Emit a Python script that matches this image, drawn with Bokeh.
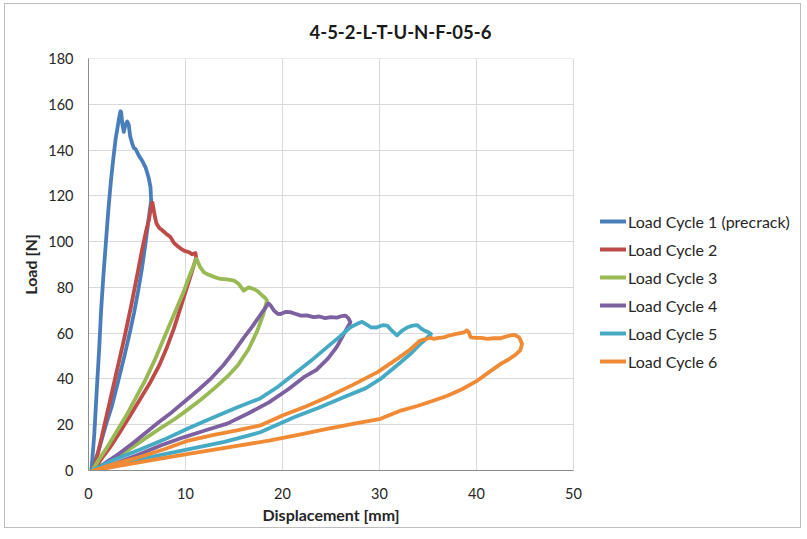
from bokeh.plotting import figure
from bokeh.models import Legend, LegendItem, FixedTicker, Range1d, Title
from bokeh.embed import file_html
from bokeh.resources import INLINE

title_text = "4-5-2-L-T-U-N-F-05-6"
x_label = "Displacement [mm]"
y_label = "Load [N]"
x_ticks = [0, 10, 20, 30, 40, 50]
y_ticks = [0, 20, 40, 60, 80, 100, 120, 140, 160, 180]

series_names = ["Load Cycle 1 (precrack)", "Load Cycle 2", "Load Cycle 3",
                "Load Cycle 4", "Load Cycle 5", "Load Cycle 6"]
colors = ["#4A7EBB", "#BE4B48", "#98B954", "#7D60A0", "#46AAC5", "#F08A35"]

# Load cycle 1 (precrack): loading, crack growth, unloading
disp_c1 = [0.3, 0.6, 0.85, 1.1, 1.3, 1.55, 1.8, 2.05, 2.3, 2.55, 2.8, 3.0, 3.15, 3.3, 3.37, 3.5, 3.64,
           3.8, 4.0, 4.15, 4.3, 4.5, 4.67, 4.85, 5.19, 5.53, 5.88, 6.2, 6.39, 6.46,
           6.2, 5.9, 5.5, 5.1, 4.7, 4.3, 3.7, 3.0, 2.4, 1.8, 1.2, 0.7, 0.4]
load_c1 = [0, 16, 35, 53, 70, 86, 100, 114, 126, 136, 145, 150, 154, 157, 156.5, 151, 148,
           151, 152.5, 151, 146, 143, 141, 140.5, 137.6, 135.4, 132.5, 128, 123.8, 118,
           110, 100, 88, 78, 69, 61, 50, 38, 28, 20, 11, 4, 0]

disp_c2 = [0.5, 1.0, 1.6, 2.3, 3.0, 3.7, 4.4, 5.0, 5.5, 5.9, 6.25, 6.5,
           6.6, 6.8, 7.0, 7.3, 7.6, 8.0, 8.45, 8.8, 9.2, 9.5, 9.9, 10.3, 10.7, 11.03, 11.1,
           10.6, 10.0, 9.4, 8.8, 8.1, 7.3, 6.3, 5.3, 4.3, 3.2, 2.2, 1.3, 0.6]
load_c2 = [0, 8, 19, 32, 45, 58, 72, 85, 96, 104, 110, 116.5,
           117, 112, 108, 106, 105, 103.5, 102, 99.5, 98, 97, 96, 95.5, 94.5, 95, 93,
           86, 78, 70, 62, 54, 46, 38, 31, 24, 16.5, 10, 5, 0]

disp_c3 = [0.4, 1.1, 1.9, 2.9, 3.9, 4.9, 5.8, 6.8, 7.6, 8.3, 9.1, 9.8, 10.5, 11.13,
           11.5, 11.9, 12.4, 13.0, 13.6, 14.3, 15.0, 15.5, 16.0, 16.5, 17.0, 17.4, 17.9, 18.2, 18.4,
           18.0, 17.4, 16.5, 15.4, 14.3, 13.0, 11.6, 10.2, 8.9, 7.6, 6.2, 4.8, 3.4, 2.0, 0.7]
load_c3 = [0, 5, 10, 17, 24, 32, 39, 48, 56, 63, 71, 78, 86, 92.5,
           89, 86.6, 85.5, 84.5, 83.7, 83.5, 83, 81.5, 78.6, 80, 79.4, 78.5, 76.5, 75.5, 74.3,
           68, 61, 53, 46, 41, 36, 31, 26.5, 22.5, 19, 15, 11, 7, 3.5, 0]

disp_c4 = [0.5, 1.8, 3.2, 4.6, 5.9, 7.2, 8.6, 10.0, 11.4, 12.7, 13.9, 15.0, 16.0, 16.9, 17.8, 18.56,
           18.8, 19.1, 19.5, 19.8, 20.3, 20.8, 21.3, 21.9, 22.5, 23.2, 23.8, 24.4, 25.0, 25.6,
           26.1, 26.5, 26.8, 27.0,
           26.5, 25.6, 24.7, 23.5, 22.2, 20.6, 18.6, 16.5, 14.3, 12.0, 9.8, 7.5, 5.2, 3.0, 0.8]
load_c4 = [0, 3.5, 7.5, 12, 16.5, 21, 25.5, 30.5, 35.5, 40.5, 46, 52, 58, 63, 68.5, 73,
           72, 70, 68.5, 68.4, 69.3, 69.2, 68.5, 67.7, 67.8, 67, 67.3, 66.6, 67, 66.8,
           67.5, 67.7, 66.5, 64.8,
           61, 54, 49, 44, 40.8, 35.5, 29.8, 25, 20.5, 17.5, 14.5, 11, 7, 3.5, 0]

disp_c5 = [0.4, 2.5, 5.2, 7.8, 10.3, 12.8, 15.3, 17.7, 19.5, 21.2, 22.9, 24.6, 25.9, 27.0, 27.7,
           28.2, 28.6, 29.1, 29.7, 30.3, 30.8, 31.3, 31.8, 32.3, 32.9, 33.4, 33.9, 34.3, 34.6, 35.0, 35.3,
           34.8, 34.2, 33.2, 32.1, 31.1, 30.1, 28.6, 26.3, 23.8, 21.2, 17.7, 14.0, 10.0, 6.5, 3.5, 0.8]
load_c5 = [0, 4.5, 9, 13.5, 18.5, 23, 27.5, 31.5, 36.5, 42.2, 47.8, 53.9, 58.5, 62.6, 64.1,
           65, 64, 62.6, 62.5, 63.5, 63.3, 61, 59, 61, 62.6, 63.3, 63.5, 62, 61.2, 60.5, 59.7,
           57.5, 55.3, 51, 47, 43.5, 40, 36, 32, 27.5, 23.3, 16.7, 12.5, 9, 6, 3, 0]

disp_c6 = [0.5, 2.8, 5.2, 7.8, 10.3, 12.8, 15.3, 17.7, 20.0, 22.4, 24.6, 27.2, 29.8, 31.9, 33.2, 34.2, 35.3,
           35.6, 36.1, 36.6, 37.2, 37.8, 38.3, 38.7, 39.0, 39.2, 39.4, 39.9, 40.5, 41.1, 41.8, 42.5,
           43.0, 43.5, 43.9, 44.4, 44.7,
           44.5, 44.0, 43.3, 42.5, 41.3, 40.1, 38.5, 37.0, 35.6, 33.9, 32.2, 30.1, 27.4, 24.6, 21.5,
           18.6, 15.0, 12.5, 10.3, 7.7, 5.2, 2.8, 0.6]
load_c6 = [0, 3, 5.8, 9.3, 13.1, 15.5, 17.5, 19.7, 24, 28, 32, 37.3, 43, 49, 53, 56.8, 58,
           57.5, 58, 58.2, 59, 59.6, 60, 60.4, 61.2, 60.5, 58.2, 58, 58, 57.5, 57.8, 57.8,
           58.5, 59, 59.3, 58.2, 55.3,
           52.5, 50.5, 48.5, 46.6, 43, 39.3, 35.5, 32.7, 30.6, 28.2, 26.2, 22.6, 20.5, 18.2, 15.5,
           13.1, 10.5, 8.8, 7.3, 5.4, 3.6, 1.8, 0]

all_disp = [disp_c1, disp_c2, disp_c3, disp_c4, disp_c5, disp_c6]
all_load = [load_c1, load_c2, load_c3, load_c4, load_c5, load_c6]

FONT = "Lato"

# Layout (canvas px; the canvas is inset by 5/4 px inside a thin chart-area border)
FRAME_L, FRAME_R_AXIS, FRAME_R = 83, 568, 790   # 0..50 mm spans FRAME_L..FRAME_R_AXIS
X_MIN, X_MAX = x_ticks[0], x_ticks[-1]
x_end = X_MAX * (FRAME_R - FRAME_L) / (FRAME_R_AXIS - FRAME_L)

p = figure(width=797, height=525, x_range=Range1d(X_MIN, x_end), y_range=Range1d(0, 180.05),
           output_backend="svg", toolbar_location=None,
           min_border_left=FRAME_L, min_border_right=797 - FRAME_R,
           min_border_top=54, min_border_bottom=59,
           styles={"margin": "3px 0 0 4px", "border": "1px solid #BDBDBD"})
p.background_fill_color = "white"
p.border_fill_color = "white"
p.outline_line_color = None

p.title.text = title_text
p.title.align = "left"
p.title.offset = 221
p.title.text_font = FONT
p.title.text_font_size = "18.5px"
p.title.text_font_style = "bold"
p.title.text_color = "#1a1a1a"
p.title.vertical_align = "middle"
p.title.standoff = 30

p.xaxis.ticker = FixedTicker(ticks=x_ticks)
p.yaxis.ticker = FixedTicker(ticks=y_ticks)
p.xaxis.bounds = (X_MIN, X_MAX)
p.xgrid.ticker = FixedTicker(ticks=x_ticks)
p.ygrid.ticker = FixedTicker(ticks=y_ticks)
p.ygrid.cross_bounds = (X_MIN, X_MAX)
p.grid.grid_line_color = "#D9D9D9"
p.grid.grid_line_width = 1

for ax in (p.xaxis, p.yaxis):
    ax.axis_line_color = "#8C8C8C"
    ax.major_tick_line_color = None
    ax.minor_tick_line_color = None
    ax.major_tick_out = 0
    ax.major_label_text_font = FONT
    ax.major_label_text_font_size = "14.5px"
    ax.major_label_text_color = "#262626"
    ax.axis_label_text_font = FONT
    ax.axis_label_text_font_size = "16px"
    ax.axis_label_text_font_style = "bold"
    ax.axis_label_text_color = "#262626"

p.yaxis.axis_label = y_label
p.xaxis.major_label_standoff = 17
p.yaxis.major_label_standoff = 15
p.yaxis.axis_label_standoff = 5

# x-axis title, centred under the 0..50 mm span
x_title = Title(text=x_label, align="left", offset=174, vertical_align="top", standoff=6,
                text_font=FONT, text_font_size="16px", text_font_style="bold",
                text_color="#262626")
p.add_layout(x_title, "below")

items = []
for name, col, xs, ys in zip(series_names, colors, all_disp, all_load):
    r = p.line(xs, ys, line_color=col, line_width=3.8, line_join="round", line_cap="round")
    items.append(LegendItem(label=name, renderers=[r]))

legend = Legend(items=items, location=(512, 99), padding=0, margin=0,
                spacing=8, glyph_width=26, glyph_height=20, label_height=20,
                label_standoff=2, border_line_color=None, background_fill_alpha=0,
                label_text_font=FONT, label_text_font_size="16px",
                label_text_color="#262626")
legend.glyph_height = 20
p.add_layout(legend)

open("out.html", "w").write(file_html(p, INLINE))
